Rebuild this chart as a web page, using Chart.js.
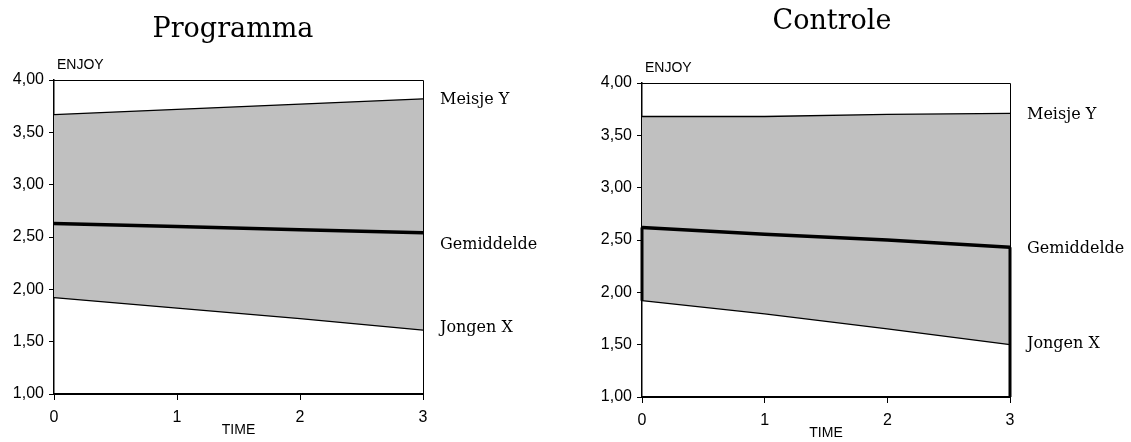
<!DOCTYPE html>
<html>
<head>
<meta charset="utf-8">
<script src="https://cdn.jsdelivr.net/npm/chart.js@4.4.1/dist/chart.umd.min.js"></script>
<style>
  body { margin: 0; background: #fff; }
  #wrap { position: relative; width: 1131px; height: 442px; }
  canvas { position: absolute; top: 0; }
</style>
</head>
<body>
<div id="wrap">
  <canvas id="programma" width="560" height="442" style="left:0"></canvas>
  <canvas id="controle" width="566" height="442" style="left:565px"></canvas>
</div>
<script>
// gegevens
const tijd = [0, 1, 2, 3];
const reeksen = ['Meisje Y', 'Gemiddelde', 'Jongen X'];
const titels = ['Programma', 'Controle'];
const yAs = { min: 1, max: 4, stap: 0.5, titel: 'ENJOY' };
const xAsTitel = 'TIME';

const progMeisje = [3.67, 3.72, 3.77, 3.82];
const progGem = [2.63, 2.60, 2.57, 2.54];
const progJongen = [1.92, 1.82, 1.72, 1.61];

const ctrlMeisje = [3.68, 3.68, 3.70, 3.71];
const ctrlGem = [2.62, 2.555, 2.50, 2.43];
const ctrlJongen = [1.92, 1.795, 1.65, 1.50];

const punten = (waarden) => tijd.map((t, i) => ({ x: t, y: waarden[i] }));

// tekst rond het grafiekvlak: titel, ENJOY, TIME, namen van de lijnen
const tekstPlugin = {
    id: 'teksten',
    afterDraw(chart, args, opts) {
        const ctx = chart.ctx;
        const ca = chart.chartArea;
        ctx.save();
        // kader boven en rechts
        ctx.strokeStyle = '#000';
        ctx.lineWidth = 1;
        ctx.beginPath();
        ctx.moveTo(ca.left, ca.top + 0.5);
        ctx.lineTo(ca.right + 0.5, ca.top + 0.5);
        ctx.lineTo(ca.right + 0.5, ca.bottom);
        ctx.stroke();

        ctx.fillStyle = '#000';
        ctx.textBaseline = 'alphabetic';
        ctx.textAlign = 'center';
        ctx.font = '27px "DejaVu Serif"';
        ctx.fillText(opts.titel, opts.titelX, opts.titelY);

        ctx.textBaseline = 'middle';
        ctx.font = '14px "Liberation Sans"';
        ctx.fillText(xAsTitel, (ca.left + ca.right) / 2, ca.bottom + 36);
        ctx.textAlign = 'left';
        ctx.fillText(yAs.titel, ca.left + 3, ca.top - 15);

        ctx.font = '16px "DejaVu Serif"';
        const y = chart.scales.y;
        opts.laatste.forEach((v, i) => {
            ctx.fillText(reeksen[i], ca.right + 17, y.getPixelForValue(v) + opts.verschuif[i]);
        });
        ctx.restore();
    }
};

function maakGrafiek(id, titel, meisje, gem, jongen, extra, opties) {
    const sets = [
        { label: reeksen[0], data: punten(meisje), borderWidth: 1.3, fill: 2, backgroundColor: '#c0c0c0' },
        { label: reeksen[1], data: punten(gem), borderWidth: 3.5, fill: false },
        { label: reeksen[2], data: punten(jongen), borderWidth: 1.3, fill: false }
    ].concat(extra);
    sets.forEach(s => {
        s.borderColor = '#000';
        s.pointRadius = 0;
        s.tension = 0;
        s.clip = false;
    });

    const as = {
        color: '#000', font: { family: 'Liberation Sans', size: 16 }
    };

    return new Chart(document.getElementById(id), {
        type: 'line',
        data: { datasets: sets },
        options: {
            responsive: false,
            animation: false,
            layout: { padding: opties.padding },
            plugins: {
                legend: { display: false },
                tooltip: { enabled: false },
                filler: { drawTime: 'beforeDatasetsDraw' },
                teksten: {
                    titel: titel,
                    titelX: opties.titelX,
                    titelY: opties.titelY,
                    laatste: [meisje[3], gem[3], jongen[3]],
                    verschuif: opties.verschuif
                }
            },
            scales: {
                x: {
                    type: 'linear', min: tijd[0], max: tijd[tijd.length - 1],
                    ticks: { stepSize: 1, padding: 8, ...as },
                    grid: { drawOnChartArea: false, color: '#000', tickLength: 6 },
                    border: { color: '#000', width: 2 },
                    afterFit: (s) => { s.height = opties.xHoogte; }
                },
                y: {
                    min: yAs.min, max: yAs.max,
                    ticks: {
                        stepSize: yAs.stap, padding: 5, ...as,
                        callback: (v) => v.toFixed(2).replace('.', ',')
                    },
                    grid: { drawOnChartArea: false, color: '#000', tickLength: 5 },
                    border: { color: '#000', width: 1.5 },
                    afterFit: (s) => { s.width = 54; }
                }
            }
        },
        plugins: [tekstPlugin]
    });
}

maakGrafiek('programma', titels[0], progMeisje, progGem, progJongen, [], {
    padding: { left: 0, top: 80, right: 137, bottom: 0 },
    xHoogte: 48, titelX: 233, titelY: 37,
    verschuif: [1, 12, -2]
});

// in de controlegroep staan nog twee dikke verticale lijnen
maakGrafiek('controle', titels[1], ctrlMeisje, ctrlGem, ctrlJongen, [
    { data: [{ x: tijd[0], y: ctrlGem[0] }, { x: tijd[0], y: ctrlJongen[0] }], borderWidth: 3, fill: false },
    { data: [{ x: tijd[3], y: ctrlGem[3] }, { x: tijd[3], y: yAs.min }], borderWidth: 3, fill: false }
], {
    padding: { left: 23, top: 83, right: 121, bottom: 0 },
    xHoogte: 45, titelX: 267, titelY: 29,
    verschuif: [1, 2, -1]
});
</script>
</body>
</html>
